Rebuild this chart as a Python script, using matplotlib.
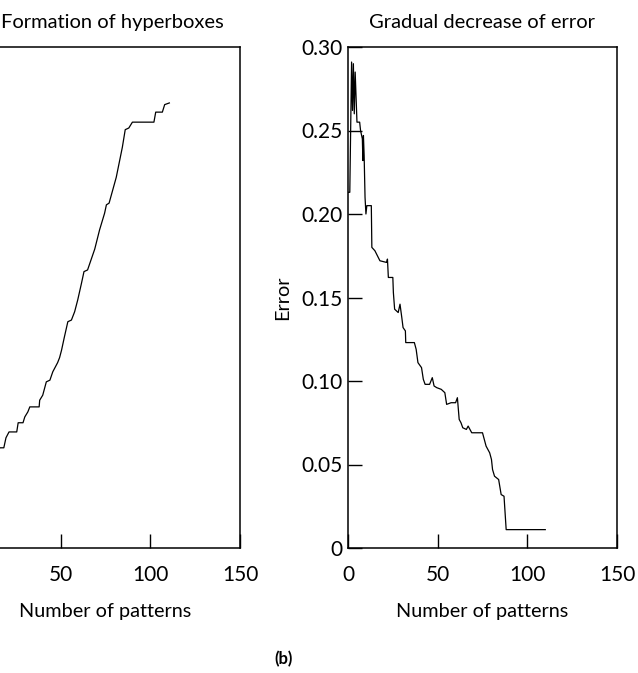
import matplotlib
matplotlib.use("Agg")
import matplotlib.pyplot as plt

plt.rcParams['font.family'] = ['Lato', 'DejaVu Sans']

# Left panel: number of hyperboxes vs number of patterns
hb_patterns = [0, 5, 10, 16, 18.3, 19.5, 21.2, 25.5, 26.3, 29, 30, 31.7, 32.8, 38, 38.3, 40,
               42, 44, 45.6, 48.3, 49.4, 50.5, 52, 54, 56, 57.8, 59.5, 61.6, 63, 65, 69,
               71.7, 74.5, 75.5, 77, 81, 84.4, 86, 88, 90, 102, 103, 106.7, 108, 110.6]
hb_count = [1, 4, 8, 12.0, 12.0, 13.2, 13.9, 13.9, 15.0, 15.0, 15.7, 16.3, 16.9, 16.9, 17.7, 18.3,
            19.9, 20.1, 21.1, 22.2, 22.8, 23.7, 25.2, 27.1, 27.3, 28.3, 29.7, 31.7, 33.1, 33.3, 35.8,
            38.1, 40.1, 41.1, 41.3, 44.4, 48.0, 50.1, 50.3, 51.0, 51.0, 52.2, 52.2, 53.1, 53.3]

# Right panel: error vs number of patterns
err_patterns = [0, 1, 2, 2.5, 3, 3.5, 4, 4.5, 5, 6.5, 7, 8, 8.3, 8.6, 9, 9.5, 10, 10.5, 13, 13.3,
                15, 17.8, 21.5, 22, 22.5, 25, 25.3, 26, 28, 29, 30, 30.7, 32, 32.2, 37, 38, 39,
                41, 42, 43, 45.5, 47, 48, 49.5, 52, 54, 55, 57.5, 60, 61, 62, 63, 64, 66, 67,
                69, 75, 76, 77, 79, 80, 80.6, 81.7, 84, 85.4, 87, 88.2, 110]
err_values = [0.213, 0.213, 0.291, 0.262, 0.290, 0.260, 0.285, 0.270, 0.255, 0.255, 0.250, 0.245,
              0.232, 0.247, 0.235, 0.210, 0.200, 0.205, 0.205, 0.180, 0.178, 0.172, 0.171, 0.173,
              0.162, 0.162, 0.153, 0.143, 0.141, 0.146, 0.138, 0.132, 0.130, 0.123, 0.123, 0.119,
              0.111, 0.108, 0.101, 0.098, 0.098, 0.102, 0.097, 0.096, 0.095, 0.093, 0.086, 0.087,
              0.087, 0.090, 0.077, 0.075, 0.072, 0.071, 0.073, 0.069, 0.069, 0.065, 0.061, 0.057,
              0.053, 0.047, 0.043, 0.041, 0.032, 0.031, 0.011, 0.011]

x_ticks = [0, 50, 100, 150]
x_tick_labels = ['0', '50', '100', '150']
err_ticks = [0, 0.05, 0.10, 0.15, 0.20, 0.25, 0.30]
err_tick_labels = ['0', '0.05', '0.10', '0.15', '0.20', '0.25', '0.30']

W, H = 638, 673
fig = plt.figure(figsize=(W / 100, H / 100), dpi=100)

def frac(l, r, t, b):
    return [l / W, 1 - b / H, (r - l) / W, (b - t) / H]

ax1 = fig.add_axes(frac(-29, 240, 47, 548))
ax2 = fig.add_axes(frac(348, 617, 47, 548))

ax1.plot(hb_patterns, hb_count, color='black', lw=0.9)
ax1.set_xlim(0, 150)
ax1.set_ylim(0, 60)
# the left edge of this panel (x = 0 and the y axis) lies outside the picture
ax1.set_xticks(x_ticks[1:])
ax1.set_xticklabels(x_tick_labels[1:])
ax1.set_yticks([])
ax1.set_title('Formation of hyperboxes', fontsize=14.5, pad=14, x=0.525)
ax1.set_xlabel('Number of patterns', fontsize=14.3, labelpad=13)

ax2.plot(err_patterns, err_values, color='black', lw=0.9)
ax2.set_xlim(0, 150)
ax2.set_ylim(0, 0.30)
ax2.set_xticks(x_ticks)
ax2.set_xticklabels(x_tick_labels)
ax2.set_yticks(err_ticks)
ax2.set_yticklabels(err_tick_labels)
ax2.set_title('Gradual decrease of error', fontsize=14.5, pad=14)
ax2.set_xlabel('Number of patterns', fontsize=14.3, labelpad=13)
ax2.set_ylabel('Error', fontsize=14.3, labelpad=7)

for ax in (ax1, ax2):
    ax.tick_params(direction='in', length=10, width=1, labelsize=15,
                   top=False, right=False)
    ax.tick_params(axis='x', pad=12)
    ax.tick_params(axis='y', pad=4)
    for s in ax.spines.values():
        s.set_linewidth(1.1)

fig.text(284 / W, 1 - 659 / H, '(b)', fontsize=12, fontweight='bold', ha='center', va='center')

fig.savefig('out.png', dpi=100)
